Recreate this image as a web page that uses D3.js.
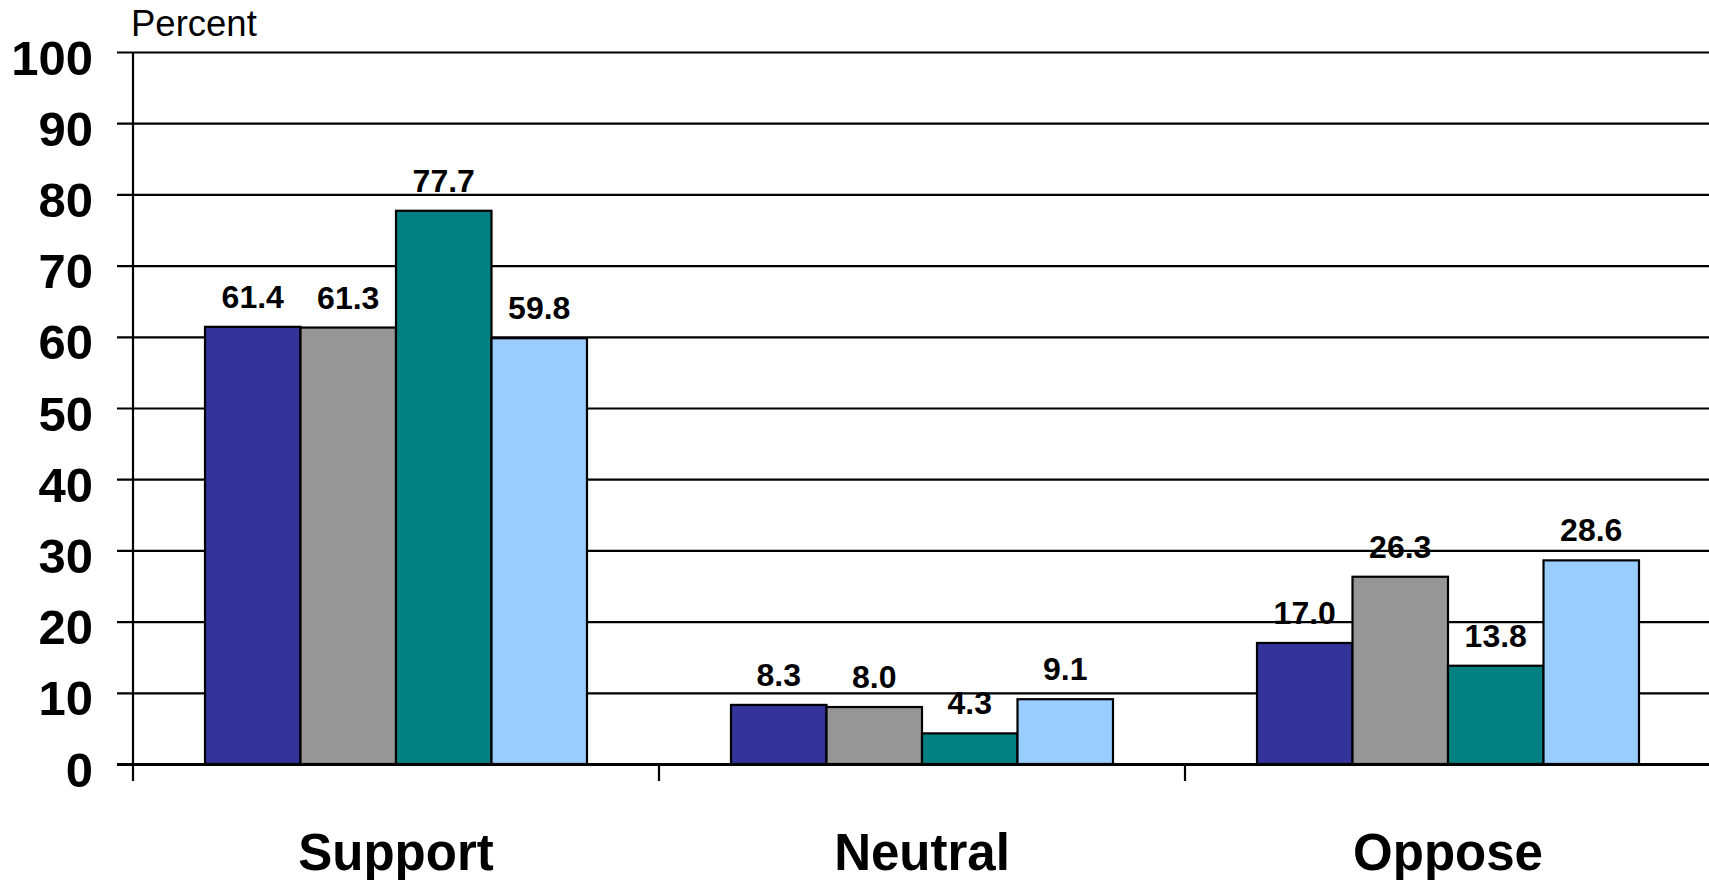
<!DOCTYPE html>
<html>
<head>
<meta charset="utf-8">
<script src="https://cdn.jsdelivr.net/npm/d3@7"></script>
<style>
  body { margin: 0; background: #fff; }
  svg text { font-family: "Liberation Sans", Arial, sans-serif; fill: #000; }
</style>
</head>
<body>
<div id="main"></div>
<script>
const categories = ['Support', 'Neutral', 'Oppose'];
const seriesNames = ['Group 1', 'Group 2', 'Group 3', 'Group 4'];
const group1 = [61.4, 8.3, 17.0];
const group2 = [61.3, 8.0, 26.3];
const group3 = [77.7, 4.3, 13.8];
const group4 = [59.8, 9.1, 28.6];
const yTicks = [0, 10, 20, 30, 40, 50, 60, 70, 80, 90, 100];
const colors = ['#333399', '#969696', '#008080', '#99ccff'];

const series = [group1, group2, group3, group4];

const width = 1709;
const height = 880;
const plotLeft = 133;
const plotRight = 1711;
const plotTop = 52;
const plotBottom = 764;

const svg = d3.select('#main')
              .append('svg')
              .attr('width', width)
              .attr('height', height);

const y = d3.scaleLinear().domain([0, 100]).range([plotBottom, plotTop]);
const x0 = d3.scaleBand().domain(categories).range([plotLeft, plotRight]).padding(0);
const x1 = d3.scaleBand()
             .domain(seriesNames)
             .range([0, x0.bandwidth()])
             .paddingInner(0)
             .paddingOuter(0.754);
const color = d3.scaleOrdinal().domain(seriesNames).range(colors);

// gridlines + y ticks
const yAxis = svg.append('g')
                 .attr('transform', 'translate(' + plotLeft + ',0)')
                 .call(d3.axisLeft(y).tickValues(yTicks).tickSize(16).tickPadding(24));
yAxis.select('.domain').remove();
yAxis.selectAll('.tick line')
     .attr('x1', -16)
     .attr('x2', width - plotLeft)
     .attr('stroke', '#000')
     .attr('stroke-width', 2.2);
yAxis.selectAll('.tick text')
     .attr('x', -40)
     .attr('dy', 22)
     .style('font-size', '49px')
     .style('font-weight', 'bold');
yAxis.selectAll('.tick')
     .filter((d) => d === 0)
     .select('line')
     .attr('stroke-width', 3);

// vertical axis line
svg.append('line')
   .attr('x1', plotLeft).attr('x2', plotLeft)
   .attr('y1', y(100)).attr('y2', plotBottom + 17)
   .attr('stroke', '#000')
   .attr('stroke-width', 2.2);

// category separators
svg.append('g')
   .selectAll('line')
   .data(categories.slice(1))
   .enter()
   .append('line')
   .attr('x1', (d) => x0(d)).attr('x2', (d) => x0(d))
   .attr('y1', plotBottom).attr('y2', plotBottom + 17)
   .attr('stroke', '#000')
   .attr('stroke-width', 2.2);

// bars
const groups = svg.append('g')
                  .selectAll('g')
                  .data(categories)
                  .enter()
                  .append('g')
                  .attr('transform', (d) => 'translate(' + x0(d) + ',0)');

const cells = groups.selectAll('g')
                    .data((d, i) => seriesNames.map((s, j) => ({ name: s, value: series[j][i] })))
                    .enter()
                    .append('g');

cells.append('rect')
     .attr('x', (d) => x1(d.name))
     .attr('y', (d) => y(d.value))
     .attr('width', x1.bandwidth())
     .attr('height', (d) => plotBottom - y(d.value))
     .attr('fill', (d) => color(d.name))
     .attr('stroke', '#000')
     .attr('stroke-width', 2.2);

cells.append('text')
     .attr('x', (d) => x1(d.name) + x1.bandwidth() / 2)
     .attr('y', (d) => y(d.value) - 19)
     .attr('text-anchor', 'middle')
     .style('font-size', '32px')
     .style('font-weight', 'bold')
     .text((d) => d.value.toFixed(1));

// category labels
const xAxis = svg.append('g')
                 .attr('transform', 'translate(0,' + plotBottom + ')')
                 .call(d3.axisBottom(x0).tickSize(0).tickPadding(0));
xAxis.select('.domain').remove();
xAxis.selectAll('.tick text')
     .attr('y', 106)
     .attr('dy', 0)
     .style('font-size', '51px')
     .style('font-weight', 'bold');

// unit label
svg.append('text')
   .attr('x', 131)
   .attr('y', 36)
   .style('font-size', '36.5px')
   .text('Percent');
</script>
</body>
</html>
